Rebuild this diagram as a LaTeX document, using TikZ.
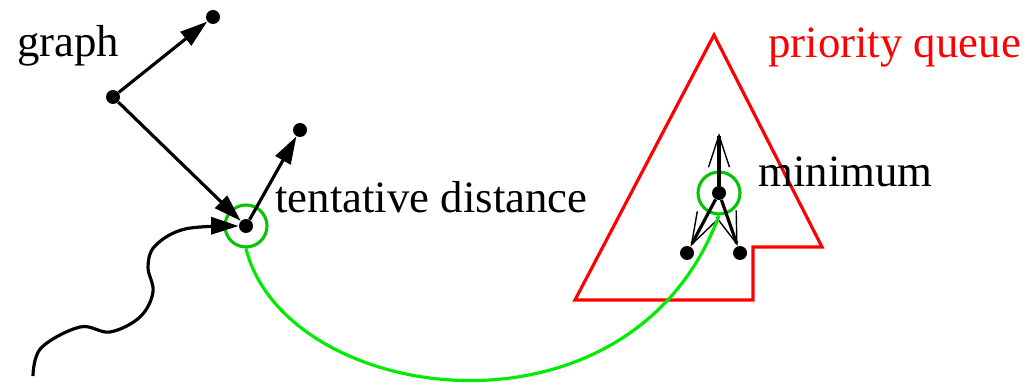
\documentclass[tikz,border=0pt]{standalone}
\usepackage{fontspec}
\setmainfont{Liberation Serif}
\usetikzlibrary{arrows.meta}
\definecolor{queuered}{RGB}{255,0,0}
\definecolor{pathgreen}{RGB}{0,235,0}
\definecolor{ringgreen}{RGB}{10,195,10}
\tikzset{
  vertex/.style={circle, fill, inner sep=0pt, minimum size=0.28cm},
  ring/.style={circle, draw=ringgreen, line width=1.8pt, inner sep=0pt, minimum size=0.84cm},
  edge/.style={line width=1.8pt, -{Triangle[length=0.55cm, width=0.34cm]}},
  heap edge/.style={line width=1.8pt, -{Straight Barb[length=0.64cm, width=0.42cm, line width=0.8pt]}},
  lbl/.style={anchor=base west, inner sep=0pt, font=\fontsize{25.5}{30}\selectfont},
}

\begin{document}
\begin{tikzpicture}[x=0.02cm, y=0.02cm]
  \useasboundingbox (0,0) rectangle (1030,385);
  % graph part
  \node[vertex] (g)  at (113,288) {};
  \node[vertex] (a)  at (213,368) {};
  \node[vertex] (t)  at (246,159) {};
  \node[vertex] (c)  at (300,255) {};
  \node[ring]   (tr) at (t) {};
  \coordinate (w0) at (33,9);
  \draw[edge] (g) -- (a);
  \draw[edge] (g) -- (t);
  \draw[edge] (t) -- (c);
  \draw[edge] plot[smooth, tension=0.6] coordinates {(w0) (41,37) (80,58) (110,53)
    (140,68) (153,93) (148,118) (155,139) (185,156) (t.west)};
  \node[lbl] (glbl) at (17,328) {graph};
  \node[lbl] (tlbl) at (275,172) {tentative distance};
  % priority queue
  \draw[queuered, line width=1.8pt, line join=miter]
    (714,350) -- (822,138) -- (753,138) -- (753,85) -- (575,85) -- cycle;
  \node[lbl, text=queuered] (qlbl) at (768,327) {priority queue};
  \node[vertex] (m) at (719,192) {};
  \node[vertex] (l) at (687,132) {};
  \node[vertex] (r) at (740,132) {};
  \node[ring]   (mr) at (m) {};
  \coordinate (mtop) at (719,252);
  \draw[heap edge] (m) -- (mtop);
  \foreach \kid in {l,r}{\draw[heap edge] (m) -- (\kid);}
  \node[lbl] (mlbl) at (758,198) {minimum};
  % tentative distance becomes the minimum
  \draw[pathgreen, line width=1.8pt] (tr.south) .. controls (285,-20) and (630,-70) .. (mr.south);
\end{tikzpicture}
\end{document}
